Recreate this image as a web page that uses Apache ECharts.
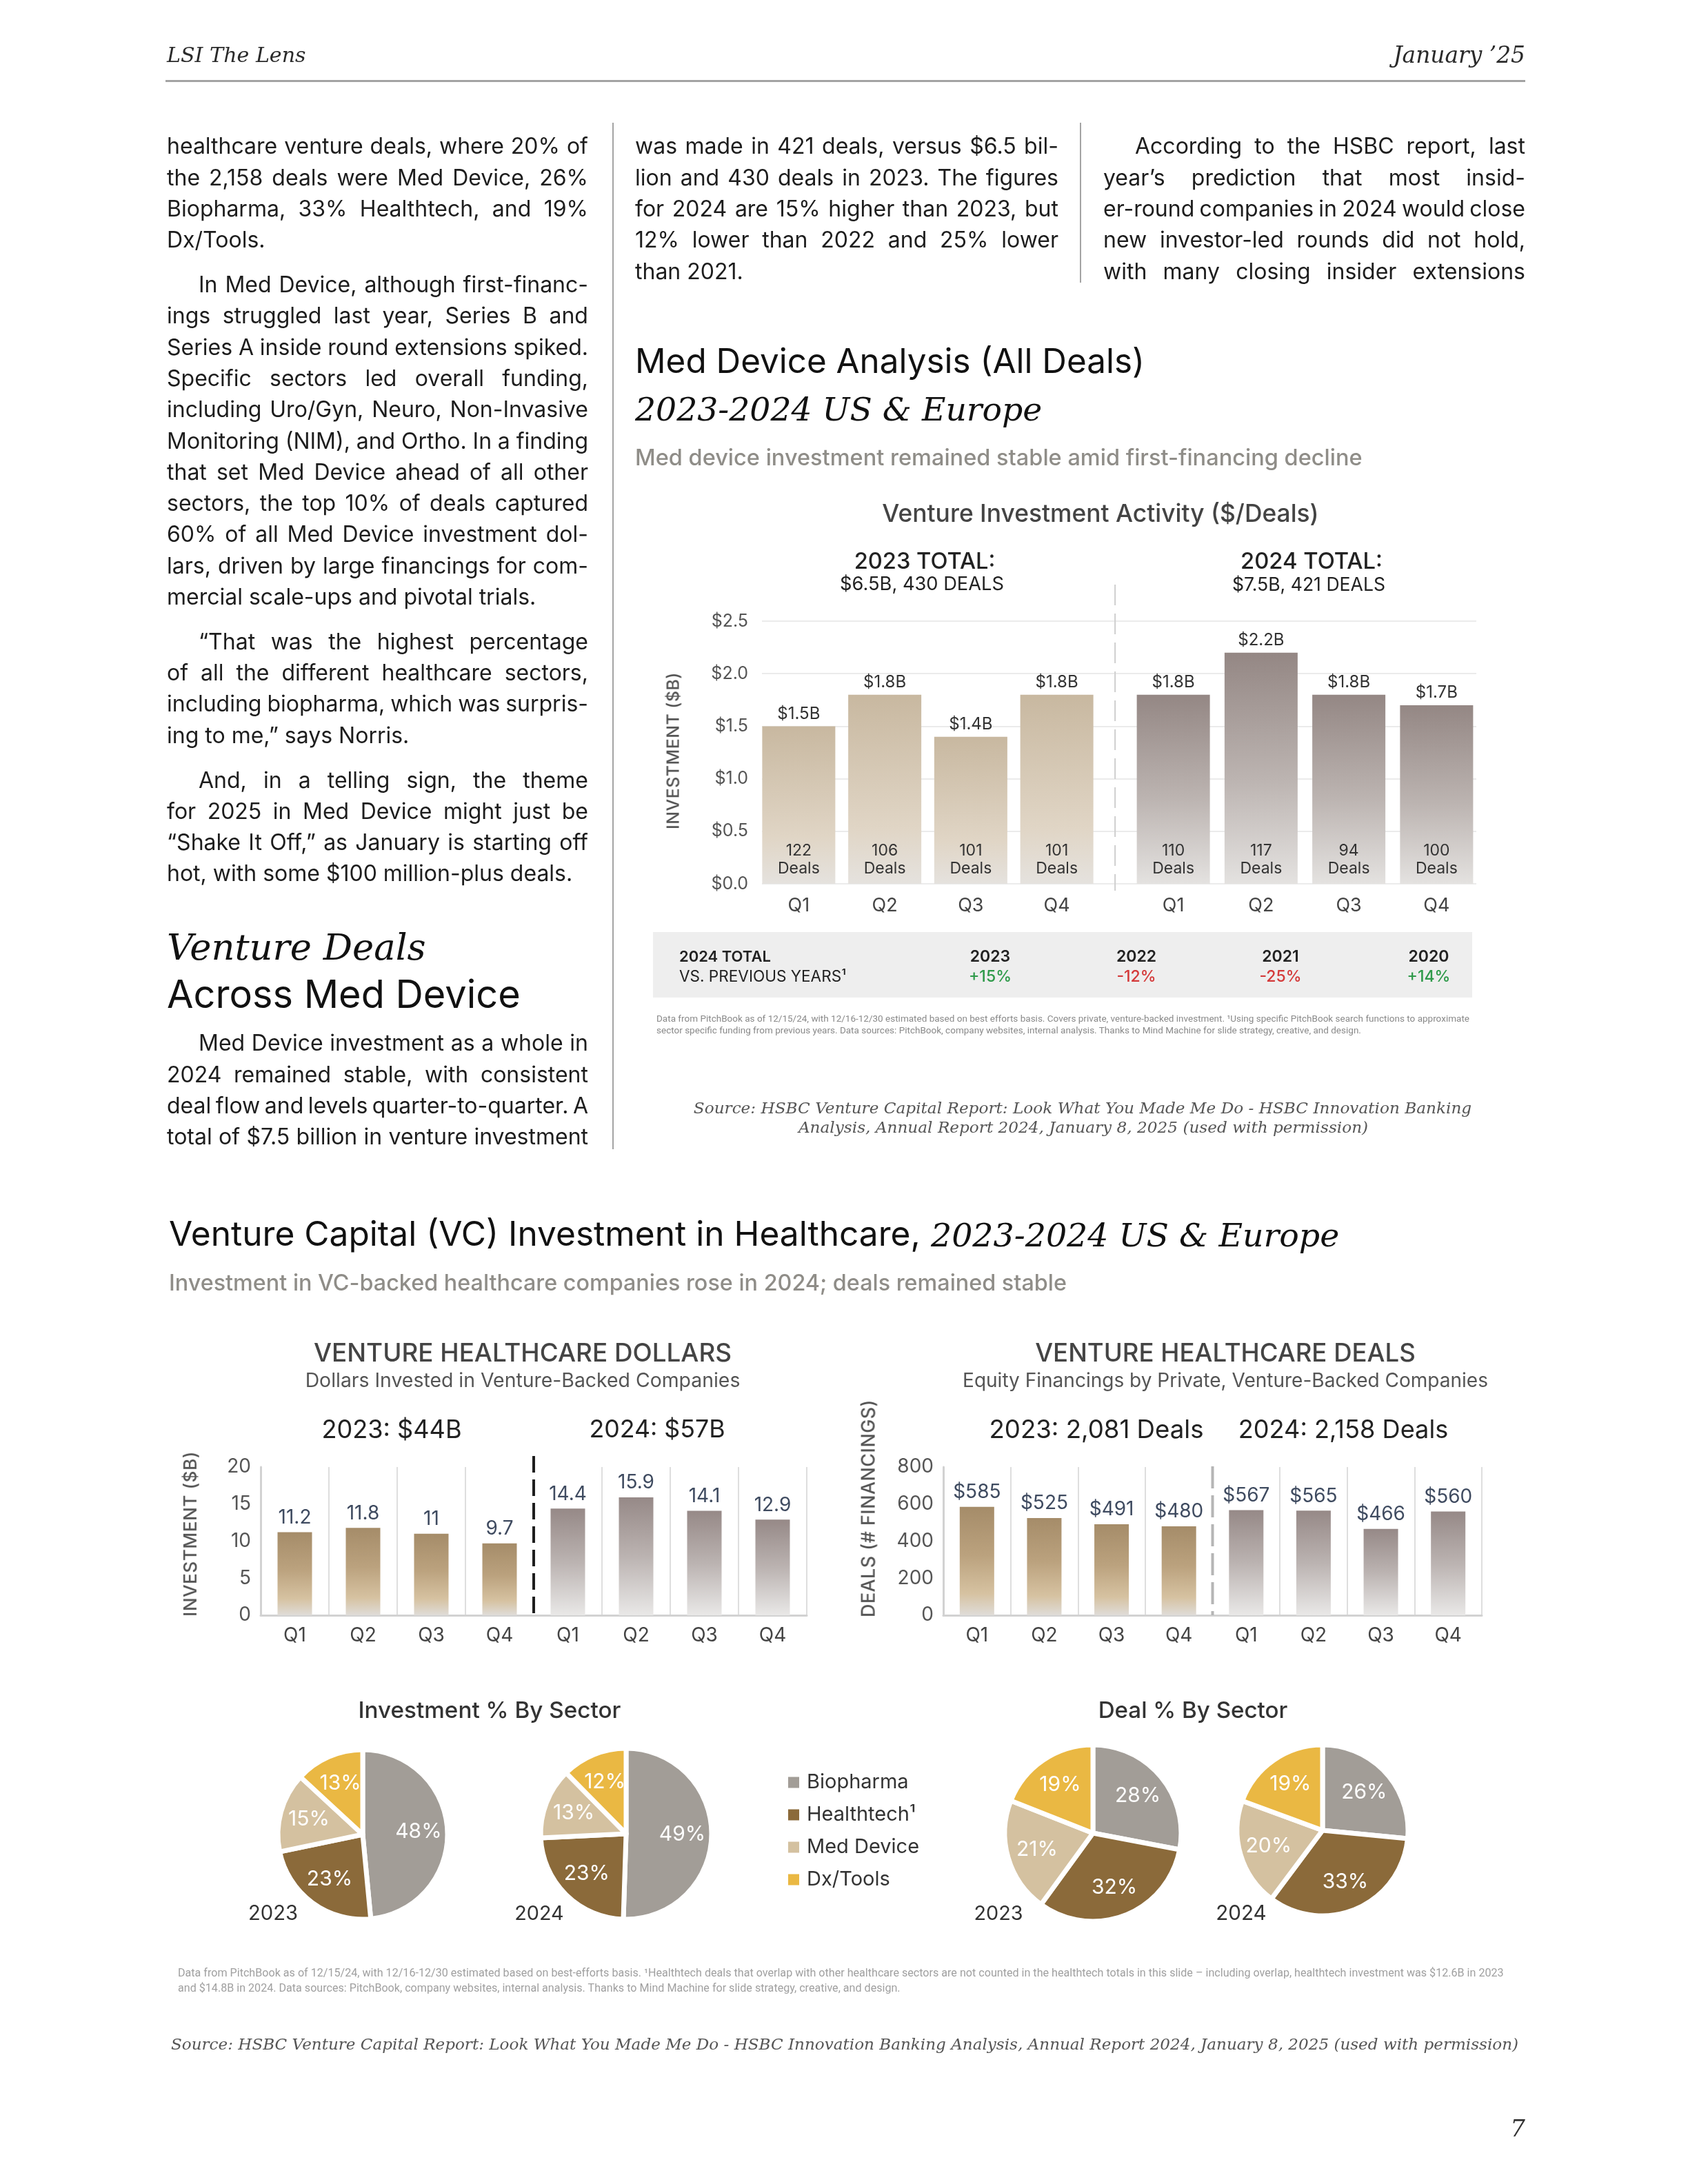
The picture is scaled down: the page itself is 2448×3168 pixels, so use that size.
<!DOCTYPE html>
<html><head><meta charset="utf-8"><title>LSI The Lens – January '25</title>
<script src="https://cdn.jsdelivr.net/npm/echarts@6/dist/echarts.min.js"></script>
<style>
html,body{margin:0;padding:0;background:#fff;}
#page{position:relative;width:2448px;height:3168px;overflow:hidden;background:#fff;font-family:Inter,"Noto Sans",sans-serif;color:#1d1d1d;}
#chart{position:absolute;left:0;top:0;width:2448px;height:3168px;z-index:1;}
.t{position:absolute;white-space:nowrap;line-height:1;z-index:2;}
.para{position:absolute;z-index:2;font-size:32px;color:#1d1d1d;}
.ln{height:45.3px;line-height:45.3px;white-space:nowrap;display:flex;justify-content:space-between;box-sizing:border-box;}
.ln.last{display:block;white-space:pre;}
.rule{position:absolute;background:#a3a3a3;z-index:2;}
.box{position:absolute;background:#eeeeee;z-index:0;}
</style></head>
<body><div id="page"><div class="box" id="tbl"></div><div id="chart"></div></div>
<script>
// ---------------- DATA ----------------
const medQuarters = ['Q1', 'Q2', 'Q3', 'Q4'];
const medInvest2023 = [1.5, 1.8, 1.4, 1.8];
const medInvest2024 = [1.8, 2.2, 1.8, 1.7];
const medDeals2023 = [122, 106, 101, 101];
const medDeals2024 = [110, 117, 94, 100];
const compareYears = ['2023', '2022', '2021', '2020'];
const compareChange = [15, -12, -25, 14];
const hcYears = ['2023', '2024'];
const hcQuarters = ['Q1', 'Q2', 'Q3', 'Q4'];
const hcDollars2023 = [11.2, 11.8, 11, 9.7];
const hcDollars2024 = [14.4, 15.9, 14.1, 12.9];
const hcDeals2023 = [585, 525, 491, 480];
const hcDeals2024 = [567, 565, 466, 560];
const sectorNames = ['Biopharma', 'Healthtech¹', 'Med Device', 'Dx/Tools'];
const investShare2023 = [48, 23, 15, 13];
const investShare2024 = [49, 23, 13, 12];
const dealShare2023 = [28, 32, 21, 19];
const dealShare2024 = [26, 33, 20, 19];

// ---------------- TEXT ----------------
const P1 = ['healthcare venture deals, where 20% of', 'the 2,158 deals were Med Device, 26%', 'Biopharma, 33% Healthtech, and 19%', 'Dx/Tools.'];
const P2 = ['In Med Device, although first-financ-', 'ings struggled last year, Series B and', 'Series A inside round extensions spiked.', 'Specific sectors led overall funding,', 'including Uro/Gyn, Neuro, Non-Invasive', 'Monitoring (NIM), and Ortho. In a finding', 'that set Med Device ahead of all other', 'sectors, the top 10% of deals captured', '60% of all Med Device investment dol-', 'lars, driven by large financings for com-', 'mercial scale-ups and pivotal trials.'];
const P3 = ['“That was the highest percentage', 'of all the different healthcare sectors,', 'including biopharma, which was surpris-', 'ing to me,” says Norris.'];
const P4 = ['And, in a telling sign, the theme', 'for 2025 in Med Device might just be', '“Shake It Off,” as January is starting off', 'hot, with some $100 million-plus deals.'];
const P5 = ['Med Device investment as a whole in', '2024 remained stable, with consistent', 'deal flow and levels quarter-to-quarter. A', 'total of $7.5 billion in venture investment'];
const M1 = ['was made in 421 deals, versus $6.5 bil-', 'lion and 430 deals in 2023. The figures', 'for 2024 are 15% higher than 2023, but', '12% lower than 2022 and 25% lower', 'than 2021.'];
const R1 = ['According to the HSBC report, last', 'year’s prediction that most insid-', 'er-round companies in 2024 would close', 'new investor-led rounds did not hold,', 'with many closing insider extensions'];

const SANS = 'Inter, "Noto Sans", sans-serif';
const SERIF = '"DejaVu Serif", "Liberation Serif", serif';
const page = document.getElementById('page');
const LH = 45.3, PM = 19.5;

function para(left, top, width, lines, indent, ends) {
  const d = document.createElement('div'); d.className = 'para';
  d.style.left = left + 'px'; d.style.top = top + 'px'; d.style.width = width + 'px';
  lines.forEach((ln, i) => {
    const last = ends && i === lines.length - 1;
    const r = document.createElement('div'); r.className = 'ln' + (last ? ' last' : '');
    if (i === 0 && indent) r.style.paddingLeft = '46px';
    if (last) r.textContent = ln;
    else ln.split(' ').forEach(w => { const s = document.createElement('span'); s.textContent = w; r.appendChild(s); });
    d.appendChild(r);
  });
  page.appendChild(d);
  return top + lines.length * LH;
}
function T(text, o) {
  const d = document.createElement('div'); d.className = 't'; d.textContent = text;
  const size = o.size || 30;
  d.style.fontSize = size + 'px';
  d.style.fontFamily = o.font || (o.serif ? SERIF : SANS);
  if (o.serif) d.style.fontStyle = 'italic';
  d.style.fontWeight = o.w || 400;
  d.style.color = o.c || '#1d1d1d';
  if (o.ls) d.style.letterSpacing = o.ls + 'px';
  page.appendChild(d);
  let fs = size;
  if (o.fit) { const w = d.offsetWidth; fs = size * o.fit / w; d.style.fontSize = fs + 'px'; }
  const tx = o.al === 'c' ? '-50%' : o.al === 'r' ? '-100%' : '0';
  d.style.left = o.x + 'px'; d.style.top = o.y + 'px';
  d.style.transform = o.rot ? 'translate(-50%,-50%) rotate(-90deg)' : `translate(${tx},-50%)`;
  return fs;
}
function rule(l, t, w, h) { const d = document.createElement('div'); d.className = 'rule'; Object.assign(d.style, { left: l + 'px', top: t + 'px', width: w + 'px', height: h + 'px' }); page.appendChild(d); }

// header
T('LSI The Lens', { x: 242, y: 80, size: 31, serif: true, fit: 202, c: '#2a2a2a' });
T('January ’25', { x: 2212, y: 80, size: 32, serif: true, fit: 192, al: 'r', c: '#2a2a2a' });
rule(240, 116, 1972, 3);
rule(888, 178, 2, 1489);
rule(1566, 178, 2, 232);

// columns
let y = 212 - LH / 2;
y = para(242, y, 611, P1, false, true) + PM;
y = para(242, y, 611, P2, true, true) + PM;
y = para(242, y, 611, P3, true, true) + PM;
para(242, y, 611, P4, true, true);
T('Venture Deals', { x: 242, y: 1374, size: 62, serif: true, fit: 376, c: '#111' });
T('Across Med Device', { x: 242, y: 1442, size: 54, fit: 513, c: '#111' });
para(242, 1513 - LH / 2, 611, P5, true, false);
para(921, 212 - LH / 2, 614, M1, false, true);
para(1600, 212 - LH / 2, 612, R1, true, false);

// Med device section texts
T('Med Device Analysis (All Deals)', { x: 921, y: 524, size: 52, fit: 739, c: '#111' });
T('2023-2024 US & Europe', { x: 921, y: 594, size: 46, serif: true, fit: 590, c: '#111' });
T('Med device investment remained stable amid first-financing decline', { x: 921, y: 663, size: 31, w: 500, c: '#8f8d88', fit: 1055 });
T('Venture Investment Activity ($/Deals)', { x: 1596, y: 745, size: 34, w: 500, c: '#444', fit: 634, al: 'c' });
T('2023 TOTAL:', { x: 1341, y: 813, size: 32, w: 500, c: '#222', fit: 205, al: 'c' });
T('$6.5B, 430 DEALS', { x: 1337, y: 847, size: 26, c: '#222', fit: 238, al: 'c' });
T('2024 TOTAL:', { x: 1902, y: 813, size: 32, w: 500, c: '#222', fit: 206, al: 'c' });
T('$7.5B, 421 DEALS', { x: 1898, y: 847, size: 26, c: '#222', fit: 222, al: 'c' });
T('INVESTMENT ($B)', { x: 976, y: 1089, size: 24, w: 500, c: '#555', ls: 0.5, fit: 228, rot: true });

// comparison table
Object.assign(document.getElementById('tbl').style, { left: '947px', top: '1352px', width: '1188px', height: '95px' });
T('2024 TOTAL', { x: 985, y: 1387, size: 22, w: 600, c: '#222', fit: 133 });
T('VS. PREVIOUS YEARS¹', { x: 985, y: 1416, size: 22, c: '#222', fit: 242 });
const compareX = [1436, 1648, 1857, 2072];
compareYears.forEach((yr, i) => {
  T(yr, { x: compareX[i], y: 1387, size: 23, w: 600, c: '#222', al: 'c' });
  const v = compareChange[i];
  T((v > 0 ? '+' : '') + v + '%', { x: compareX[i], y: 1416, size: 23, w: 500, c: v > 0 ? '#2f9a4a' : '#d43a3a', al: 'c' });
});
const fn1 = T('Data from PitchBook as of 12/15/24, with 12/16-12/30 estimated based on best efforts basis. Covers private, venture-backed investment. ¹Using specific PitchBook search functions to approximate', { x: 952, y: 1478, size: 13, font: 'Roboto, sans-serif', c: '#8a8a8a', fit: 1180 });
T('sector specific funding from previous years. Data sources: PitchBook, company websites, internal analysis. Thanks to Mind Machine for slide strategy, creative, and design.', { x: 952, y: 1495, size: fn1, font: 'Roboto, sans-serif', c: '#8a8a8a' });
const s1 = T('Source: HSBC Venture Capital Report: Look What You Made Me Do - HSBC Innovation Banking', { x: 1570, y: 1607, size: 26, serif: true, c: '#555', fit: 1129, al: 'c' });
T('Analysis, Annual Report 2024, January 8, 2025 (used with permission)', { x: 1571, y: 1635, size: s1, serif: true, c: '#555', al: 'c' });

// VC section texts
T('Venture Capital (VC) Investment in Healthcare,', { x: 245, y: 1790, size: 52, fit: 1090, c: '#111' });
T('2023-2024 US & Europe', { x: 1350, y: 1792, size: 46, serif: true, fit: 592, c: '#111' });
T('Investment in VC-backed healthcare companies rose in 2024; deals remained stable', { x: 245, y: 1861, size: 31, w: 500, c: '#8f8d88', fit: 1302 });
T('VENTURE HEALTHCARE DOLLARS', { x: 758, y: 1962, size: 33, w: 500, c: '#444', fit: 606, al: 'c' });
T('Dollars Invested in Venture-Backed Companies', { x: 758, y: 2002, size: 28, c: '#555', fit: 631, al: 'c' });
T('2023: $44B', { x: 568, y: 2073, size: 37, c: '#222', fit: 203, al: 'c' });
T('2024: $57B', { x: 953, y: 2073, size: 37, c: '#222', fit: 197, al: 'c' });
T('INVESTMENT ($B)', { x: 276, y: 2225, size: 25, w: 500, c: '#555', ls: 0.5, fit: 240, rot: true });
T('VENTURE HEALTHCARE DEALS', { x: 1777, y: 1962, size: 33, w: 500, c: '#444', fit: 552, al: 'c' });
T('Equity Financings by Private, Venture-Backed Companies', { x: 1777, y: 2002, size: 28, c: '#555', fit: 762, al: 'c' });
T('2023: 2,081 Deals', { x: 1590, y: 2073, size: 37, c: '#222', fit: 311, al: 'c' });
T('2024: 2,158 Deals', { x: 1948, y: 2073, size: 37, c: '#222', fit: 305, al: 'c' });
T('DEALS (# FINANCINGS)', { x: 1259, y: 2188, size: 25, w: 500, c: '#555', ls: 0.5, fit: 317, rot: true });
T('Investment % By Sector', { x: 710, y: 2481, size: 33, w: 500, c: '#333', fit: 381, al: 'c' });
T('Deal % By Sector', { x: 1730, y: 2481, size: 33, w: 500, c: '#333', fit: 275, al: 'c' });
T('2023', { x: 396, y: 2775, size: 30, c: '#333', fit: 72, al: 'c' });
T('2024', { x: 782, y: 2775, size: 30, c: '#333', fit: 71, al: 'c' });
T('2023', { x: 1448, y: 2775, size: 30, c: '#333', fit: 71, al: 'c' });
T('2024', { x: 1800, y: 2775, size: 30, c: '#333', fit: 73, al: 'c' });
const fn2 = T('Data from PitchBook as of 12/15/24, with 12/16-12/30 estimated based on best-efforts basis. ¹Healthtech deals that overlap with other healthcare sectors are not counted in the healthtech totals in this slide – including overlap, healthtech investment was $12.6B in 2023', { x: 258, y: 2862, size: 14, font: 'Roboto, sans-serif', c: '#a0a0a0', fit: 1924 });
T('and $14.8B in 2024. Data sources: PitchBook, company websites, internal analysis. Thanks to Mind Machine for slide strategy, creative, and design.', { x: 258, y: 2884, size: fn2, font: 'Roboto, sans-serif', c: '#a0a0a0' });
T('Source: HSBC Venture Capital Report: Look What You Made Me Do - HSBC Innovation Banking Analysis, Annual Report 2024, January 8, 2025 (used with permission)', { x: 248, y: 2966, size: 26, serif: true, c: '#555', fit: 1954 });
T('7', { x: 2212, y: 3087, size: 34, serif: true, c: '#333', al: 'r' });

// ---------------- CHARTS ----------------
function vgrad(stops) { return { type: 'linear', x: 0, y: 0, x2: 0, y2: 1, colorStops: stops.map(([o, c]) => ({ offset: o, color: c })) }; }
const gMed23 = vgrad([[0, '#c8b8a0'], [0.7, '#e0d5c5'], [1, '#e5e2de']]);
const gMed24 = vgrad([[0, '#948784'], [0.55, '#bcb4b1'], [1, '#e4e2e0']]);
const gHc23 = vgrad([[0, '#a58c69'], [0.45, '#bba27e'], [0.8, '#d6c2a1'], [1, '#dfdcd8']]);
const gHc24 = vgrad([[0, '#968987'], [0.5, '#bbb3b1'], [1, '#e9e8e7']]);
const sectorColors = ['#a29d97', '#8b6a3a', '#d4c1a0', '#eab843'];
const hcCats = hcYears.flatMap(yr => hcQuarters.map(q => yr + ' ' + q));

function medBars(idx, values, deals, grad) {
  return [
    { type: 'bar', xAxisIndex: idx, yAxisIndex: idx, data: values, barWidth: 106, barGap: '-100%', silent: true,
      itemStyle: { color: grad },
      label: { show: true, position: 'top', distance: 6, fontSize: 24, color: '#333', formatter: p => '$' + p.value.toFixed(1) + 'B' } },
    { type: 'bar', xAxisIndex: idx, yAxisIndex: idx, data: values, barWidth: 106, barGap: '-100%', silent: true, z: 3,
      itemStyle: { color: 'rgba(0,0,0,0)' },
      label: { show: true, position: 'insideBottom', distance: 9, fontSize: 23, lineHeight: 26, color: '#333', formatter: p => deals[p.dataIndex] + '\nDeals' } }
  ];
}
function hcBars(idx, v23, v24, fmt) {
  return { type: 'bar', xAxisIndex: idx, yAxisIndex: idx, barWidth: 50, silent: true,
    data: [...v23.map(v => ({ value: v, itemStyle: { color: gHc23 } })), ...v24.map(v => ({ value: v, itemStyle: { color: gHc24 } }))],
    label: { show: true, position: 'top', distance: 7, fontSize: 28, color: '#3f4b60', formatter: fmt } };
}
function pies(center, r, shares) {
  const data = sectorNames.map((n, i) => ({ name: n, value: shares[i] }));
  return [
    { type: 'pie', center, radius: r + 3, startAngle: 90, clockwise: true, data, color: sectorColors, silent: true, avoidLabelOverlap: false,
      label: { show: false }, labelLine: { show: false }, itemStyle: { borderColor: '#fff', borderWidth: 7 } },
    { type: 'pie', center, radius: [Math.round(r * 0.3), r], startAngle: 90, clockwise: true, data, silent: true, avoidLabelOverlap: false,
      itemStyle: { color: 'rgba(0,0,0,0)' }, labelLine: { show: false },
      label: { show: true, position: 'inside', formatter: '{c}%', fontSize: 30, color: '#ffffff' } }
  ];
}
const catAxisHc = (idx) => ({ gridIndex: idx, type: 'category', data: hcCats,
  axisLine: { lineStyle: { color: '#d2d2d2', width: 3 } }, axisTick: { show: false },
  axisLabel: { interval: 0, formatter: v => v.split(' ')[1], fontSize: 28, color: '#444', margin: 16 },
  splitLine: { show: true, interval: (i) => i !== 4, lineStyle: { color: '#dedede', width: 2 } } });
const valAxisHc = (idx, max, interval) => ({ gridIndex: idx, type: 'value', min: 0, max, interval,
  axisLine: { show: true, lineStyle: { color: '#d2d2d2', width: 3 } }, axisTick: { show: false },
  axisLabel: { fontSize: 28, color: '#555', margin: 14 }, splitLine: { show: false } });
const medCat = (idx) => ({ gridIndex: idx, type: 'category', data: medQuarters, axisLine: { show: false }, axisTick: { show: false },
  axisLabel: { fontSize: 27, color: '#444', margin: 18 } });

const chart = echarts.init(document.getElementById('chart'), null, { renderer: 'canvas', width: 2448, height: 3168 });
chart.setOption({
  animation: false,
  textStyle: { fontFamily: SANS },
  grid: [
    { left: 1105, top: 901, width: 1036, height: 381 },
    { left: 1096, top: 901, width: 499, height: 381 },
    { left: 1638, top: 901, width: 509, height: 381 },
    { left: 378, top: 2128, width: 792, height: 215 },
    { left: 1368, top: 2128, width: 781, height: 215 }
  ],
  xAxis: [
    { gridIndex: 0, type: 'value', min: 0, max: 1, show: false },
    medCat(1), medCat(2), catAxisHc(3), catAxisHc(4)
  ],
  yAxis: [
    { gridIndex: 0, type: 'value', min: 0, max: 2.5, interval: 0.5, axisLine: { show: false }, axisTick: { show: false },
      axisLabel: { formatter: v => '$' + v.toFixed(1), fontSize: 25, color: '#555', margin: 20 },
      splitLine: { show: true, lineStyle: { color: '#ebebeb', width: 2 } } },
    { gridIndex: 1, type: 'value', min: 0, max: 2.5, show: false },
    { gridIndex: 2, type: 'value', min: 0, max: 2.5, show: false },
    valAxisHc(3, 20, 5), valAxisHc(4, 800, 200)
  ],
  legend: { data: sectorNames, orient: 'vertical', left: 1141, top: 2571, padding: 0, itemWidth: 18, itemHeight: 18, itemGap: 18,
    icon: 'rect', selectedMode: false, textStyle: { fontSize: 29, color: '#333', padding: [0, 0, 0, 5] } },
  series: [
    ...medBars(1, medInvest2023, medDeals2023, gMed23),
    ...medBars(2, medInvest2024, medDeals2024, gMed24),
    hcBars(3, hcDollars2023, hcDollars2024, p => String(p.value)),
    hcBars(4, hcDeals2023, hcDeals2024, p => '$' + p.value),
    ...pies([526, 2661], 120, investShare2023),
    ...pies([908, 2660], 121, investShare2024),
    ...pies([1585, 2659], 125, dealShare2023),
    ...pies([1918, 2655], 121, dealShare2024)
  ]
});
// dividers placed between the two years, derived from axis positions
const midX = (a, b, ia, ib) => (chart.convertToPixel({ xAxisIndex: ia }, a) + chart.convertToPixel({ xAxisIndex: ib }, b)) / 2;
const medDiv = midX('Q4', 'Q1', 1, 2);
const dolDiv = midX(hcCats[3], hcCats[4], 3, 3);
const dealDiv = midX(hcCats[3], hcCats[4], 4, 4);
chart.setOption({ graphic: [
  { type: 'line', z: 10, shape: { x1: medDiv, y1: 848, x2: medDiv, y2: 1292 }, style: { stroke: '#cfcfcf', lineWidth: 2, lineDash: [30, 12] } },
  { type: 'line', z: 10, shape: { x1: dolDiv, y1: 2112, x2: dolDiv, y2: 2347 }, style: { stroke: '#1e1e1e', lineWidth: 4, lineDash: [24, 10] } },
  { type: 'line', z: 10, shape: { x1: dealDiv, y1: 2127, x2: dealDiv, y2: 2343 }, style: { stroke: '#b5b5b5', lineWidth: 4, lineDash: [32, 10] } }
] });
</script></body></html>
